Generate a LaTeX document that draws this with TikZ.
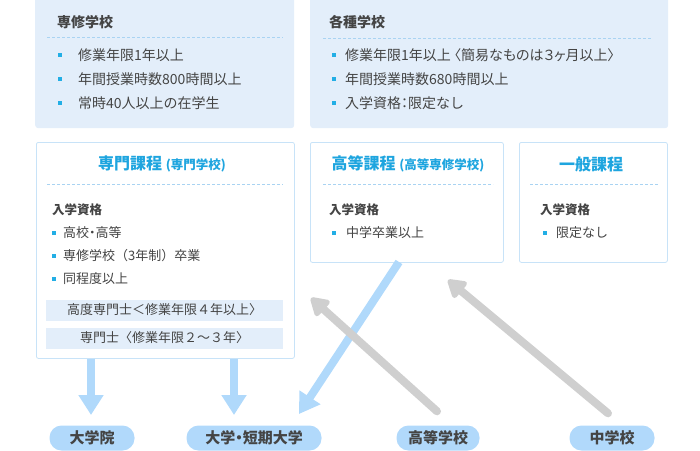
\documentclass[tikz,border=0pt]{standalone}
\usepackage{fontspec}
\setmainfont{Noto Sans CJK JP}
\newfontfamily\paltfont[RawFeature=+palt]{Noto Sans CJK JP}
\usepackage{xcolor}
\usetikzlibrary{arrows.meta}
\definecolor{panefill}{HTML}{E3EEFA}
\definecolor{paneline}{HTML}{C8E3F8}
\definecolor{dashblue}{HTML}{A9D3F2}
\definecolor{titleblue}{HTML}{1EA5DF}
\definecolor{dotblue}{HTML}{22AEE5}
\definecolor{pillblue}{HTML}{B1D9FB}
\definecolor{flowblue}{HTML}{B0D9FB}
\definecolor{flowgray}{HTML}{CFCFCF}
\definecolor{inkgray}{HTML}{444444}
\tikzset{
	topbox/.style={fill=panefill, rounded corners=3pt, anchor=north west, inner sep=0pt},
	coursebox/.style={draw=paneline, fill=white, line width=0.8pt, rounded corners=2pt, anchor=north west, inner sep=0pt},
	divider/.style={dashblue, line width=0.8pt, dash pattern=on 3pt off 2pt},
	headtext/.style={anchor=west, inner sep=0pt, text=inkgray, font=\fontsize{14pt}{16pt}\selectfont\bfseries},
	subhead/.style={anchor=west, inner sep=0pt, text=inkgray, font=\fontsize{12.5pt}{14pt}\selectfont\bfseries},
	coursetitle/.style={inner sep=0pt, text=titleblue, font=\fontsize{16pt}{18pt}\selectfont\bfseries},
	topitem/.style={anchor=west, inner sep=0pt, text=inkgray, font=\fontsize{14pt}{16pt}\selectfont},
	itemtext/.style={anchor=west, inner sep=0pt, text=inkgray, font=\fontsize{13pt}{15pt}\selectfont},
	bar/.style={fill=panefill, inner sep=0pt, text=inkgray, minimum width=237pt, minimum height=21pt, font=\fontsize{13pt}{15pt}\selectfont},
	pill/.style={fill=pillblue, rounded corners=12pt, inner sep=0pt, minimum height=25pt, text=inkgray, font=\fontsize{15pt}{17pt}\selectfont\bfseries},
	blueflow/.style={flowblue, line width=8pt, -{Triangle[width=24pt,length=20pt]}},
	grayflow/.style={flowgray, line width=8pt, line cap=round, -{Triangle[width=23pt,length=20pt,round=false]}}
}
\newcommand{\dotmark}[2]{\fill[dotblue] (#1-2,#2-2) rectangle (#1+2,#2+2);}
\newcommand{\smallpar}[1]{{\fontsize{12.5pt}{14pt}\selectfont #1}}
\begin{document}
\begin{tikzpicture}[x=1pt, y=-1pt]
	\useasboundingbox (0,0) rectangle (700,450);

	% Top panels
	\node[topbox, minimum width=259pt, minimum height=134pt] (senshu) at (35,-6) {};
	\node[topbox, minimum width=358pt, minimum height=134pt] (kakushu) at (310,-6) {};

	\node[headtext] (senshu-t) at (57,22) {専修学校};
	\draw[divider] (47,37.5) -- (283,37.5);
	\dotmark{60}{55} \node[topitem] (senshu-1) at (78,55) {修業年限1年以上};
	\dotmark{60}{79} \node[topitem] (senshu-2) at (78,79) {年間授業時数800時間以上};
	\dotmark{60}{103} \node[topitem] (senshu-3) at (78,103) {常時40人以上の在学生};

	\node[headtext] (kakushu-t) at (329,22) {各種学校};
	\draw[divider] (323,38) -- (652,38);
	\dotmark{334}{55} \node[topitem] (kakushu-1) at (345,55) {修業年限1年以上 {\paltfont〈簡易なものは３ヶ月以上〉}};
	\dotmark{334}{79} \node[topitem] (kakushu-2) at (345,79) {年間授業時数680時間以上};
	\dotmark{334}{103} \node[topitem] (kakushu-3) at (345,103) {入学資格{\paltfont：}限定なし};

	% Course boxes
	\node[coursebox, minimum width=258pt, minimum height=216pt] (senmon) at (36,142) {};
	\node[coursebox, minimum width=193pt, minimum height=120pt] (koto) at (310,142) {};
	\node[coursebox, minimum width=148pt, minimum height=120pt] (ippan) at (519,142) {};

	\node[coursetitle] (senmon-t) at (162,164) {専門課程 \smallpar{(専門学校)}};
	\draw[divider] (47,184) -- (283,184);
	\node[subhead] (senmon-h) at (52,210) {入学資格};
	\dotmark{54}{233} \node[itemtext] (senmon-1) at (63,233) {高校{\paltfont・}高等};
	\dotmark{54}{256} \node[itemtext] (senmon-2) at (63,256) {専修学校（3年制）卒業};
	\dotmark{54}{279} \node[itemtext] (senmon-3) at (63,279) {同程度以上};
	\node[bar] (kodo) at (164.5,310) {高度専門士＜修業年限４年以上〉};
	\node[bar] (senmonshi) at (164.5,338) {専門士〈修業年限２～３年〉};

	\node[coursetitle] (koto-t) at (408,164) {高等課程 \smallpar{(高等専修学校)}};
	\draw[divider] (323,184) -- (493,184);
	\node[subhead] (koto-h) at (329,210) {入学資格};
	\dotmark{334}{233} \node[itemtext] (koto-1) at (346,233) {中学卒業以上};

	\node[coursetitle] (ippan-t) at (591,164) {一般課程};
	\draw[divider] (530,184) -- (658,184);
	\node[subhead] (ippan-h) at (540,210) {入学資格};
	\dotmark{545}{233} \node[itemtext] (ippan-1) at (556,233) {限定なし};

	% Schools at the bottom
	\node[pill, minimum width=85pt] (daigakuin) at (92,438) {大学院};
	\node[pill, minimum width=135pt] (daigaku) at (254,438) {大学{\paltfont・}短期大学};
	\node[pill, minimum width=83pt] (koko) at (438,438) {高等学校};
	\node[pill, minimum width=85pt] (chugaku) at (612,438) {中学校};

	% Arrow ends
	\coordinate (tip1) at (91,415);
	\coordinate (tip2) at (234,415);
	\coordinate (tip3) at (299,414);
	\coordinate (tail3) at (399,262);
	\coordinate (tip4) at (311,298);
	\coordinate (tip5) at (448,280);

	% Arrows
	\draw[blueflow] (tip1 |- senmon.south) -- (tip1);
	\draw[blueflow] (tip2 |- senmon.south) -- (tip2);
	\draw[blueflow] (tail3) -- (tip3);
	\draw[grayflow] ([xshift=-1pt,yshift=14pt]koko.north) -- (tip4);
	\draw[grayflow] ([xshift=-4pt,yshift=12pt]chugaku.north) -- (tip5);
\end{tikzpicture}
\end{document}
